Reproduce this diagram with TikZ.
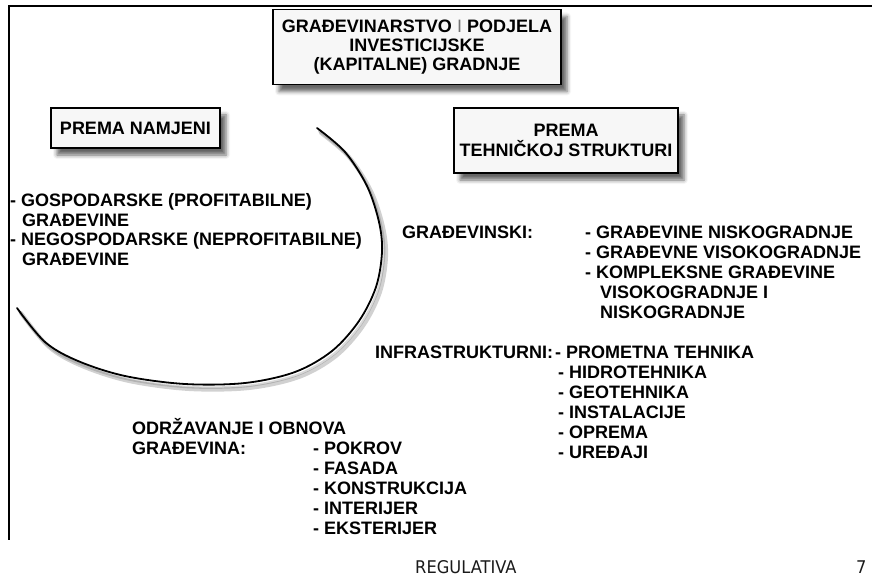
\documentclass[tikz,border=0pt]{standalone}
\usepackage{fontspec}
\setmainfont{Liberation Sans}
\newfontfamily\footfont[FakeStretch=0.93]{DejaVu Sans}
\usetikzlibrary{shadows,shadows.blur}
\definecolor{boxfill}{HTML}{F7F7F7}
\definecolor{footgray}{HTML}{1A1A1A}
\tikzset{
  framebox/.style={draw=black, line width=1.3pt, fill=boxfill, inner sep=0pt, align=center,
    font=\fontsize{18}{19.3}\selectfont\bfseries,
    blur shadow={shadow xshift=6pt, shadow yshift=-7pt, shadow blur radius=4pt, shadow opacity=60}},
  txt/.style={anchor=base west, inner sep=0pt, font=\fontsize{18}{20}\selectfont\bfseries},
  foottxt/.style={anchor=base west, inner sep=0pt, text=footgray, font=\footfont\fontsize{17.5}{20}\selectfont},
  frameline/.style={line width=1.5pt, black},
  arcline/.style={line width=1.8pt, black, line cap=round},
  arcshadow/.style={line width=4pt, black, opacity=0.18, line cap=round}
}
\begin{document}
\begin{tikzpicture}[x=1pt,y=-1pt]
\useasboundingbox (0,0) rectangle (872,585);
% frame
\coordinate (fTR) at (872,6);
\coordinate (fTL) at (9,6);
\coordinate (fBL) at (9,540);
\draw[frameline] (fTR) -- (fTL) -- (fBL);
% arc
\def\arcpts{(317,128) (345,152) (367,186) (379,222) (382,252) (376,287) (359,321) (332,351) (295,372) (245,383) (185,384) (125,376) (78,361) (45,342) (17,308)}
\begin{scope}[shift={(4,5)}]
\draw[arcshadow] plot[smooth, tension=0.55] coordinates {\arcpts};
\end{scope}
\begin{scope}[shift={(2,3)}]
\draw[arcshadow, line width=2.5pt, opacity=0.15] plot[smooth, tension=0.55] coordinates {\arcpts};
\end{scope}
\draw[arcline] plot[smooth, tension=0.55] coordinates {\arcpts};
% boxes
\node[framebox, minimum width=288pt, minimum height=75pt] (title) at (417,47)
  {GRAĐEVINARSTVO {\mdseries\color{black!55}I} PODJELA\\INVESTICIJSKE\\(KAPITALNE) GRADNJE};
\node[framebox, minimum width=169pt, minimum height=40pt] (namjena) at (135.5,128) {PREMA NAMJENI};
\node[framebox, minimum width=224pt, minimum height=65pt] (tehn) at (566,140.5) {PREMA\\TEHNIČKOJ STRUKTURI};
% left list
\node[txt] (l1) at (10,207) {- GOSPODARSKE (PROFITABILNE)};
\node[txt] (l2) at (22,226.5) {GRAĐEVINE};
\node[txt] (l3) at (10,246) {- NEGOSPODARSKE (NEPROFITABILNE)};
\node[txt] (l4) at (22,265.5) {GRAĐEVINE};
% gradjevinski
\node[txt] (g0) at (402,238.3) {GRAĐEVINSKI:};
\node[txt] (g1) at (585,238.3) {- GRAĐEVINE NISKOGRADNJE};
\node[txt] (g2) at (585,258.3) {- GRAĐEVNE VISOKOGRADNJE};
\node[txt] (g3) at (585,278.3) {- KOMPLEKSNE GRAĐEVINE};
\node[txt] (g4) at (600,298.3) {VISOKOGRADNJE I};
\node[txt] (g5) at (600,318.3) {NISKOGRADNJE};
% infrastrukturni
\node[txt] (i0) at (375,358) {INFRASTRUKTURNI:};
\node[txt] (i1) at (555,358) {- PROMETNA TEHNIKA};
\node[txt] (i2) at (558,378) {- HIDROTEHNIKA};
\node[txt] (i3) at (558,398) {- GEOTEHNIKA};
\node[txt] (i4) at (558,418) {- INSTALACIJE};
\node[txt] (i5) at (558,438) {- OPREMA};
\node[txt] (i6) at (558,458) {- UREĐAJI};
% odrzavanje
\node[txt] (o0) at (132,434.5) {ODRŽAVANJE I OBNOVA};
\node[txt] (o1) at (132,454.5) {GRAĐEVINA:};
\node[txt] (o2) at (313,454.5) {- POKROV};
\node[txt] (o3) at (313,474.5) {- FASADA};
\node[txt] (o4) at (313,494.5) {- KONSTRUKCIJA};
\node[txt] (o5) at (313,514.5) {- INTERIJER};
\node[txt] (o6) at (313,534.5) {- EKSTERIJER};
% footer
\node[foottxt] (foot) at (415,573) {REGULATIVA};
\node[foottxt] (page) at (856,573) {7};
\end{tikzpicture}
\end{document}
